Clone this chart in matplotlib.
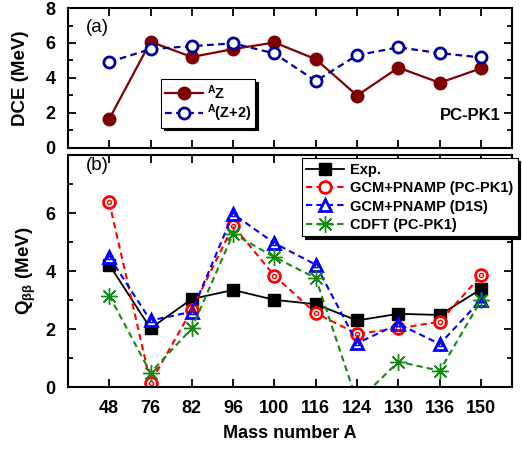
import matplotlib
matplotlib.use("Agg")
import matplotlib.pyplot as plt
from matplotlib.ticker import MultipleLocator

plt.rcParams['font.family'] = ['Liberation Sans', 'DejaVu Sans']
plt.rcParams['font.weight'] = 'bold'
plt.rcParams['axes.labelweight'] = 'bold'
plt.rcParams['mathtext.fontset'] = 'custom'
plt.rcParams['mathtext.rm'] = 'Liberation Sans:bold'
plt.rcParams['mathtext.bf'] = 'Liberation Sans:bold'
plt.rcParams['mathtext.it'] = 'Liberation Sans:bold'

masses = ['48', '76', '82', '96', '100', '116', '124', '130', '136', '150']

# panel (a): double charge exchange energies
dce_Z = [1.64, 6.07, 5.2, 5.65, 6.03, 5.07, 2.99, 4.59, 3.72, 4.55]
dce_Z2 = [4.91, 5.65, 5.82, 5.98, 5.4, 3.82, 5.3, 5.75, 5.42, 5.17]

# panel (b): Q values
q_exp = [4.22, 2.03, 3.04, 3.35, 3.01, 2.86, 2.30, 2.53, 2.49, 3.38]
q_pcpk1 = [6.38, 0.16, 2.67, 5.56, 3.84, 2.55, 1.84, 2.03, 2.26, 3.85]
q_d1s = [4.5, 2.3, 2.6, 5.97, 4.96, 4.22, 1.52, 2.18, 1.49, 3.01]
q_cdft = [3.16, 0.5, 2.03, 5.29, 4.48, 3.76, -0.5, 0.88, 0.57, 3.0]

x = list(range(len(masses)))

fig = plt.figure(figsize=(5.22, 4.49), dpi=100)
axa = fig.add_axes([0.130, 0.671, 0.851, 0.311])
axb = fig.add_axes([0.130, 0.1374, 0.851, 0.5176])

for ax in (axa, axb):
    ax.set_xlim(-1, 9.75)
    ax.set_ylim(0, 8)
    ax.set_xticks(x)
    ax.yaxis.set_major_locator(MultipleLocator(2))
    ax.yaxis.set_minor_locator(MultipleLocator(1))
    ax.tick_params(which='both', direction='in', top=True, right=True, width=1.3)
    ax.tick_params(which='major', length=6, labelsize=13, pad=9)
    ax.tick_params(which='minor', length=3.5)
    for s in ax.spines.values():
        s.set_linewidth(1.5)

axa.tick_params(labelbottom=False)
axb.set_xticklabels(masses)
axb.set_yticks([0, 2, 4, 6])

# (a)
axa.plot(x, dce_Z, '-o', color='#800000', lw=1.6, ms=9, label=r'$^{\mathrm{A}}$Z')
axa.plot(x, dce_Z2, '--o', color='#0000A0', lw=1.6, ms=8, mfc='white', mew=2,
         dashes=(3, 2), label=r'$^{\mathrm{A}}$(Z+2)')
axa.set_ylabel('DCE (MeV)', fontsize=13.5, labelpad=12)
axa.text(0.04, 0.86, '(a)', transform=axa.transAxes, fontsize=13.5, fontweight='normal',
         va='center')
axa.text(0.975, 0.23, 'PC-PK1', transform=axa.transAxes, fontsize=12, ha='right',
         va='center')
la = axa.legend(loc='upper left', bbox_to_anchor=(0.21, 0.49), fontsize=10.5,
                fancybox=False, edgecolor='k', framealpha=1, borderpad=0.25,
                handlelength=2.6, handletextpad=0.3, labelspacing=0.05,
                borderaxespad=0, shadow={'color': 'k', 'alpha': 1})
la.get_frame().set_linewidth(0.8)

# (b)
axb.plot(x, q_exp, '-s', color='k', lw=1.3, ms=8, label='Exp.')
axb.plot(x, q_pcpk1, '--o', color='#FF0000', lw=1.5, ms=8.5, mfc='white', mew=2,
         dashes=(3, 2), label='GCM+PNAMP (PC-PK1)')
axb.plot(x, q_d1s, '--^', color='#0000FF', lw=1.5, ms=9, mfc='white', mew=2,
         dashes=(3, 2), label='GCM+PNAMP (D1S)')
axb.plot(x, q_cdft, '--', marker=(8, 2, 0), color='#138A13', lw=1.5, ms=12, mew=1.0,
         dashes=(3, 2), label='CDFT (PC-PK1)')
axb.plot(x, q_pcpk1, 'o', color='#FF0000', ms=3, mfc='none', mew=1)
axb.plot(x, q_d1s, '^', color='#0000FF', ms=3, mfc='none', mew=1)
axb.set_ylabel(r'Q$_{\beta\beta}$ (MeV)', fontsize=13.5, labelpad=5)
axb.set_xlabel('Mass number A', fontsize=13, labelpad=6)
axb.text(0.04, 0.955, '(b)', transform=axb.transAxes, fontsize=13.5, fontweight='normal',
         va='center')
lb = axb.legend(loc='upper left', bbox_to_anchor=(0.527, 0.985), fontsize=10.5,
                fancybox=False, edgecolor='k', framealpha=1, borderpad=0.3,
                handlelength=2.6, handletextpad=0.4, labelspacing=0.3,
                borderaxespad=0, shadow={'color': 'k', 'alpha': 1})
lb.get_frame().set_linewidth(0.8)

fig.savefig('out.png', dpi=100)
